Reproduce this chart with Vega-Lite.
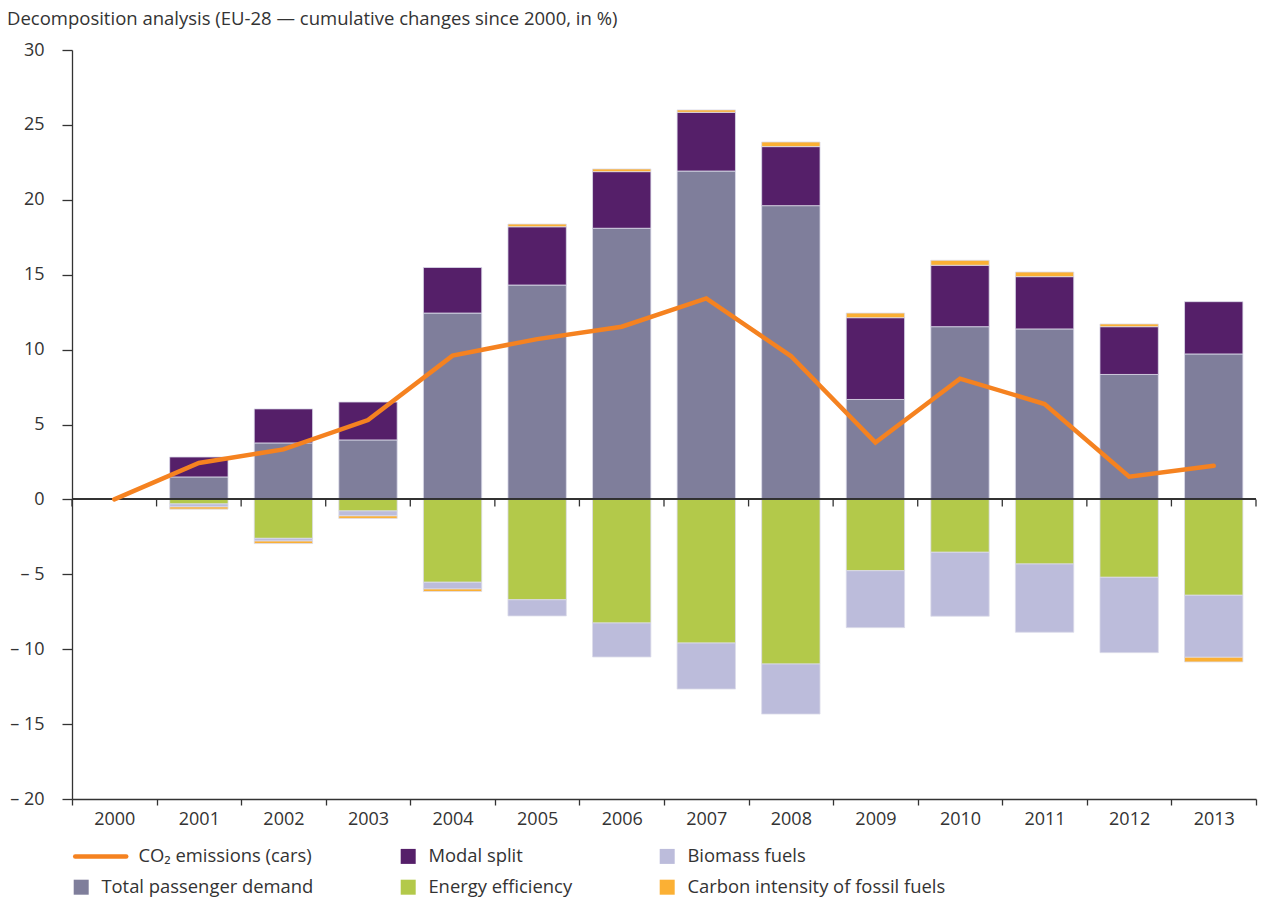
{
  "$schema": "https://vega.github.io/schema/vega-lite/v6.json",
  "autosize": {"type": "none"},
  "padding": {"left": 72, "top": 50, "right": 5, "bottom": 101},
  "width": 1184,
  "height": 749,
  "title": {
    "text": "Decomposition analysis (EU-28 — cumulative changes since 2000, in %)",
    "anchor": "start",
    "frame": "group",
    "dx": -65,
    "offset": 13,
    "font": "Open Sans",
    "fontSize": 18.5,
    "fontWeight": "normal",
    "color": "#333333"
  },
  "config": {
    "view": {"stroke": null},
    "font": "Open Sans",
    "axis": {
      "labelFont": "Open Sans",
      "labelFontSize": 18,
      "labelColor": "#333333",
      "domainColor": "#333333",
      "tickColor": "#333333",
      "domainWidth": 1.3,
      "tickWidth": 1.3,
      "grid": false,
      "title": null
    },
    "legend": {
      "labelFont": "Open Sans",
      "labelFontSize": 18.4,
      "labelColor": "#333333"
    }
  },
  "datasets": {
    "bars": [
      {"year": "2001", "component": "Total passenger demand", "value": 1.5},
      {"year": "2001", "component": "Modal split", "value": 1.33},
      {"year": "2001", "component": "Energy efficiency", "value": -0.3},
      {"year": "2001", "component": "Biomass fuels", "value": -0.2},
      {"year": "2001", "component": "Carbon intensity of fossil fuels", "value": -0.15},
      {"year": "2002", "component": "Total passenger demand", "value": 3.77},
      {"year": "2002", "component": "Modal split", "value": 2.27},
      {"year": "2002", "component": "Energy efficiency", "value": -2.6},
      {"year": "2002", "component": "Biomass fuels", "value": -0.18},
      {"year": "2002", "component": "Carbon intensity of fossil fuels", "value": -0.17},
      {"year": "2003", "component": "Total passenger demand", "value": 3.97},
      {"year": "2003", "component": "Modal split", "value": 2.53},
      {"year": "2003", "component": "Energy efficiency", "value": -0.77},
      {"year": "2003", "component": "Biomass fuels", "value": -0.33},
      {"year": "2003", "component": "Carbon intensity of fossil fuels", "value": -0.17},
      {"year": "2004", "component": "Total passenger demand", "value": 12.44},
      {"year": "2004", "component": "Modal split", "value": 3.04},
      {"year": "2004", "component": "Energy efficiency", "value": -5.53},
      {"year": "2004", "component": "Biomass fuels", "value": -0.45},
      {"year": "2004", "component": "Carbon intensity of fossil fuels", "value": -0.17},
      {"year": "2005", "component": "Total passenger demand", "value": 14.31},
      {"year": "2005", "component": "Modal split", "value": 3.89},
      {"year": "2005", "component": "Energy efficiency", "value": -6.7},
      {"year": "2005", "component": "Biomass fuels", "value": -1.08},
      {"year": "2005", "component": "Carbon intensity of fossil fuels", "value": 0.18},
      {"year": "2006", "component": "Total passenger demand", "value": 18.1},
      {"year": "2006", "component": "Modal split", "value": 3.78},
      {"year": "2006", "component": "Energy efficiency", "value": -8.25},
      {"year": "2006", "component": "Biomass fuels", "value": -2.27},
      {"year": "2006", "component": "Carbon intensity of fossil fuels", "value": 0.18},
      {"year": "2007", "component": "Total passenger demand", "value": 21.92},
      {"year": "2007", "component": "Modal split", "value": 3.92},
      {"year": "2007", "component": "Energy efficiency", "value": -9.59},
      {"year": "2007", "component": "Biomass fuels", "value": -3.07},
      {"year": "2007", "component": "Carbon intensity of fossil fuels", "value": 0.16},
      {"year": "2008", "component": "Total passenger demand", "value": 19.61},
      {"year": "2008", "component": "Modal split", "value": 3.94},
      {"year": "2008", "component": "Energy efficiency", "value": -10.99},
      {"year": "2008", "component": "Biomass fuels", "value": -3.34},
      {"year": "2008", "component": "Carbon intensity of fossil fuels", "value": 0.31},
      {"year": "2009", "component": "Total passenger demand", "value": 6.67},
      {"year": "2009", "component": "Modal split", "value": 5.46},
      {"year": "2009", "component": "Energy efficiency", "value": -4.76},
      {"year": "2009", "component": "Biomass fuels", "value": -3.8},
      {"year": "2009", "component": "Carbon intensity of fossil fuels", "value": 0.31},
      {"year": "2010", "component": "Total passenger demand", "value": 11.53},
      {"year": "2010", "component": "Modal split", "value": 4.1},
      {"year": "2010", "component": "Energy efficiency", "value": -3.53},
      {"year": "2010", "component": "Biomass fuels", "value": -4.27},
      {"year": "2010", "component": "Carbon intensity of fossil fuels", "value": 0.33},
      {"year": "2011", "component": "Total passenger demand", "value": 11.38},
      {"year": "2011", "component": "Modal split", "value": 3.49},
      {"year": "2011", "component": "Energy efficiency", "value": -4.31},
      {"year": "2011", "component": "Biomass fuels", "value": -4.56},
      {"year": "2011", "component": "Carbon intensity of fossil fuels", "value": 0.31},
      {"year": "2012", "component": "Total passenger demand", "value": 8.34},
      {"year": "2012", "component": "Modal split", "value": 3.19},
      {"year": "2012", "component": "Energy efficiency", "value": -5.2},
      {"year": "2012", "component": "Biomass fuels", "value": -5.03},
      {"year": "2012", "component": "Carbon intensity of fossil fuels", "value": 0.18},
      {"year": "2013", "component": "Total passenger demand", "value": 9.71},
      {"year": "2013", "component": "Modal split", "value": 3.49},
      {"year": "2013", "component": "Energy efficiency", "value": -6.4},
      {"year": "2013", "component": "Biomass fuels", "value": -4.14},
      {"year": "2013", "component": "Carbon intensity of fossil fuels", "value": -0.31}
    ],
    "co2": [
      {"year": "2000", "co2": 0},
      {"year": "2001", "co2": 2.43},
      {"year": "2002", "co2": 3.34},
      {"year": "2003", "co2": 5.3},
      {"year": "2004", "co2": 9.6},
      {"year": "2005", "co2": 10.7},
      {"year": "2006", "co2": 11.53},
      {"year": "2007", "co2": 13.42},
      {"year": "2008", "co2": 9.57},
      {"year": "2009", "co2": 3.79},
      {"year": "2010", "co2": 8.06},
      {"year": "2011", "co2": 6.37},
      {"year": "2012", "co2": 1.52},
      {"year": "2013", "co2": 2.25}
    ]
  },
  "layer": [
    {
      "data": {"name": "bars"},
      "transform": [
        {"calculate": "indexof(['Total passenger demand','Modal split','Energy efficiency','Biomass fuels','Carbon intensity of fossil fuels'], datum.component)", "as": "stackRank"}
      ],
      "mark": {"type": "bar", "width": {"band": 0.69}, "stroke": "#dcdcea", "strokeWidth": 0.8},
      "encoding": {
        "x": {
          "field": "year",
          "type": "nominal",
          "scale": {
            "domain": ["2000","2001","2002","2003","2004","2005","2006","2007","2008","2009","2010","2011","2012","2013"],
            "paddingInner": 0,
            "paddingOuter": 0
          },
          "axis": {
            "orient": "bottom",
            "labelAngle": 0,
            "tickBand": "extent",
            "tickSize": 6,
            "labelPadding": 5,
            "domain": true
          }
        },
        "y": {
          "field": "value",
          "type": "quantitative",
          "stack": "zero",
          "scale": {"domain": [-20, 30], "nice": false},
          "axis": {
            "values": [-20, -15, -10, -5, 0, 5, 10, 15, 20, 25, 30],
            "tickSize": 10,
            "labelPadding": 18,
            "labelExpr": "datum.value < 0 ? '– ' + (-datum.value) : '' + datum.value"
          }
        },
        "order": {"field": "stackRank", "type": "quantitative"},
        "color": {
          "field": "component",
          "type": "nominal",
          "scale": {
            "domain": ["CO₂ emissions (cars)", "Modal split", "Biomass fuels", "Total passenger demand", "Energy efficiency", "Carbon intensity of fossil fuels"],
            "range": ["#f58220", "#551f69", "#bcbcdb", "#7f7e9b", "#b3c94a", "#fbb034"]
          },
          "legend": {
            "title": null,
            "orient": "none",
            "legendX": 0,
            "legendY": 797,
            "direction": "horizontal",
            "columns": 3,
            "columnPadding": 85,
            "rowPadding": 12,
            "padding": 0,
            "symbolType": "square",
            "symbolSize": 225,
            "labelOffset": 11,
            "labelLimit": 400,
            "encode": {
              "symbols": {
                "update": {
                  "shape": {"signal": "datum.value === 'CO₂ emissions (cars)' ? 'M-0.8,0H6' : 'square'"},
                  "stroke": {"signal": "datum.value === 'CO₂ emissions (cars)' ? '#f58220' : 'transparent'"},
                  "strokeWidth": {"signal": "datum.value === 'CO₂ emissions (cars)' ? 4.5 : 0"},
                  "strokeCap": {"value": "round"},
                  "fillOpacity": {"signal": "datum.value === 'CO₂ emissions (cars)' ? 0 : 1"}
                }
              },
              "labels": {
                "update": {
                  "dx": {"signal": "datum.value === 'CO₂ emissions (cars)' ? 37 : 0"}
                }
              }
            }
          }
        }
      }
    },
    {
      "data": {"name": "co2"},
      "mark": {"type": "rule", "color": "#333333", "strokeWidth": 1.3},
      "encoding": {
        "y": {"datum": 0, "type": "quantitative"}
      }
    },
    {
      "data": {"name": "co2"},
      "mark": {"type": "rule", "color": "#333333", "strokeWidth": 1.3},
      "encoding": {
        "x": {"field": "year", "type": "nominal", "bandPosition": 1},
        "y": {"datum": 0, "type": "quantitative"},
        "y2": {"datum": -0.47}
      }
    },
    {
      "data": {"name": "co2"},
      "transform": [{"filter": "datum.year === '2000'"}],
      "mark": {"type": "rule", "color": "#333333", "strokeWidth": 1.3},
      "encoding": {
        "x": {"field": "year", "type": "nominal", "bandPosition": 0},
        "y": {"datum": 0, "type": "quantitative"},
        "y2": {"datum": -0.47}
      }
    },
    {
      "data": {"name": "co2"},
      "mark": {"type": "line", "strokeWidth": 4.5, "strokeCap": "round", "strokeJoin": "miter"},
      "encoding": {
        "x": {"field": "year", "type": "nominal"},
        "y": {"field": "co2", "type": "quantitative"},
        "color": {
          "datum": "CO₂ emissions (cars)",
          "legend": {
            "title": null,
            "orient": "none",
            "legendX": 0,
            "legendY": 797,
            "direction": "horizontal",
            "columns": 3,
            "columnPadding": 85,
            "rowPadding": 12,
            "padding": 0,
            "symbolType": "square",
            "symbolSize": 225,
            "labelOffset": 11,
            "labelLimit": 400,
            "encode": {
              "symbols": {
                "update": {
                  "shape": {"signal": "datum.value === 'CO₂ emissions (cars)' ? 'M-0.8,0H6' : 'square'"},
                  "stroke": {"signal": "datum.value === 'CO₂ emissions (cars)' ? '#f58220' : 'transparent'"},
                  "strokeWidth": {"signal": "datum.value === 'CO₂ emissions (cars)' ? 4.5 : 0"},
                  "strokeCap": {"value": "round"},
                  "fillOpacity": {"signal": "datum.value === 'CO₂ emissions (cars)' ? 0 : 1"}
                }
              },
              "labels": {
                "update": {
                  "dx": {"signal": "datum.value === 'CO₂ emissions (cars)' ? 37 : 0"}
                }
              }
            }
          }
        }
      }
    }
  ]
}
